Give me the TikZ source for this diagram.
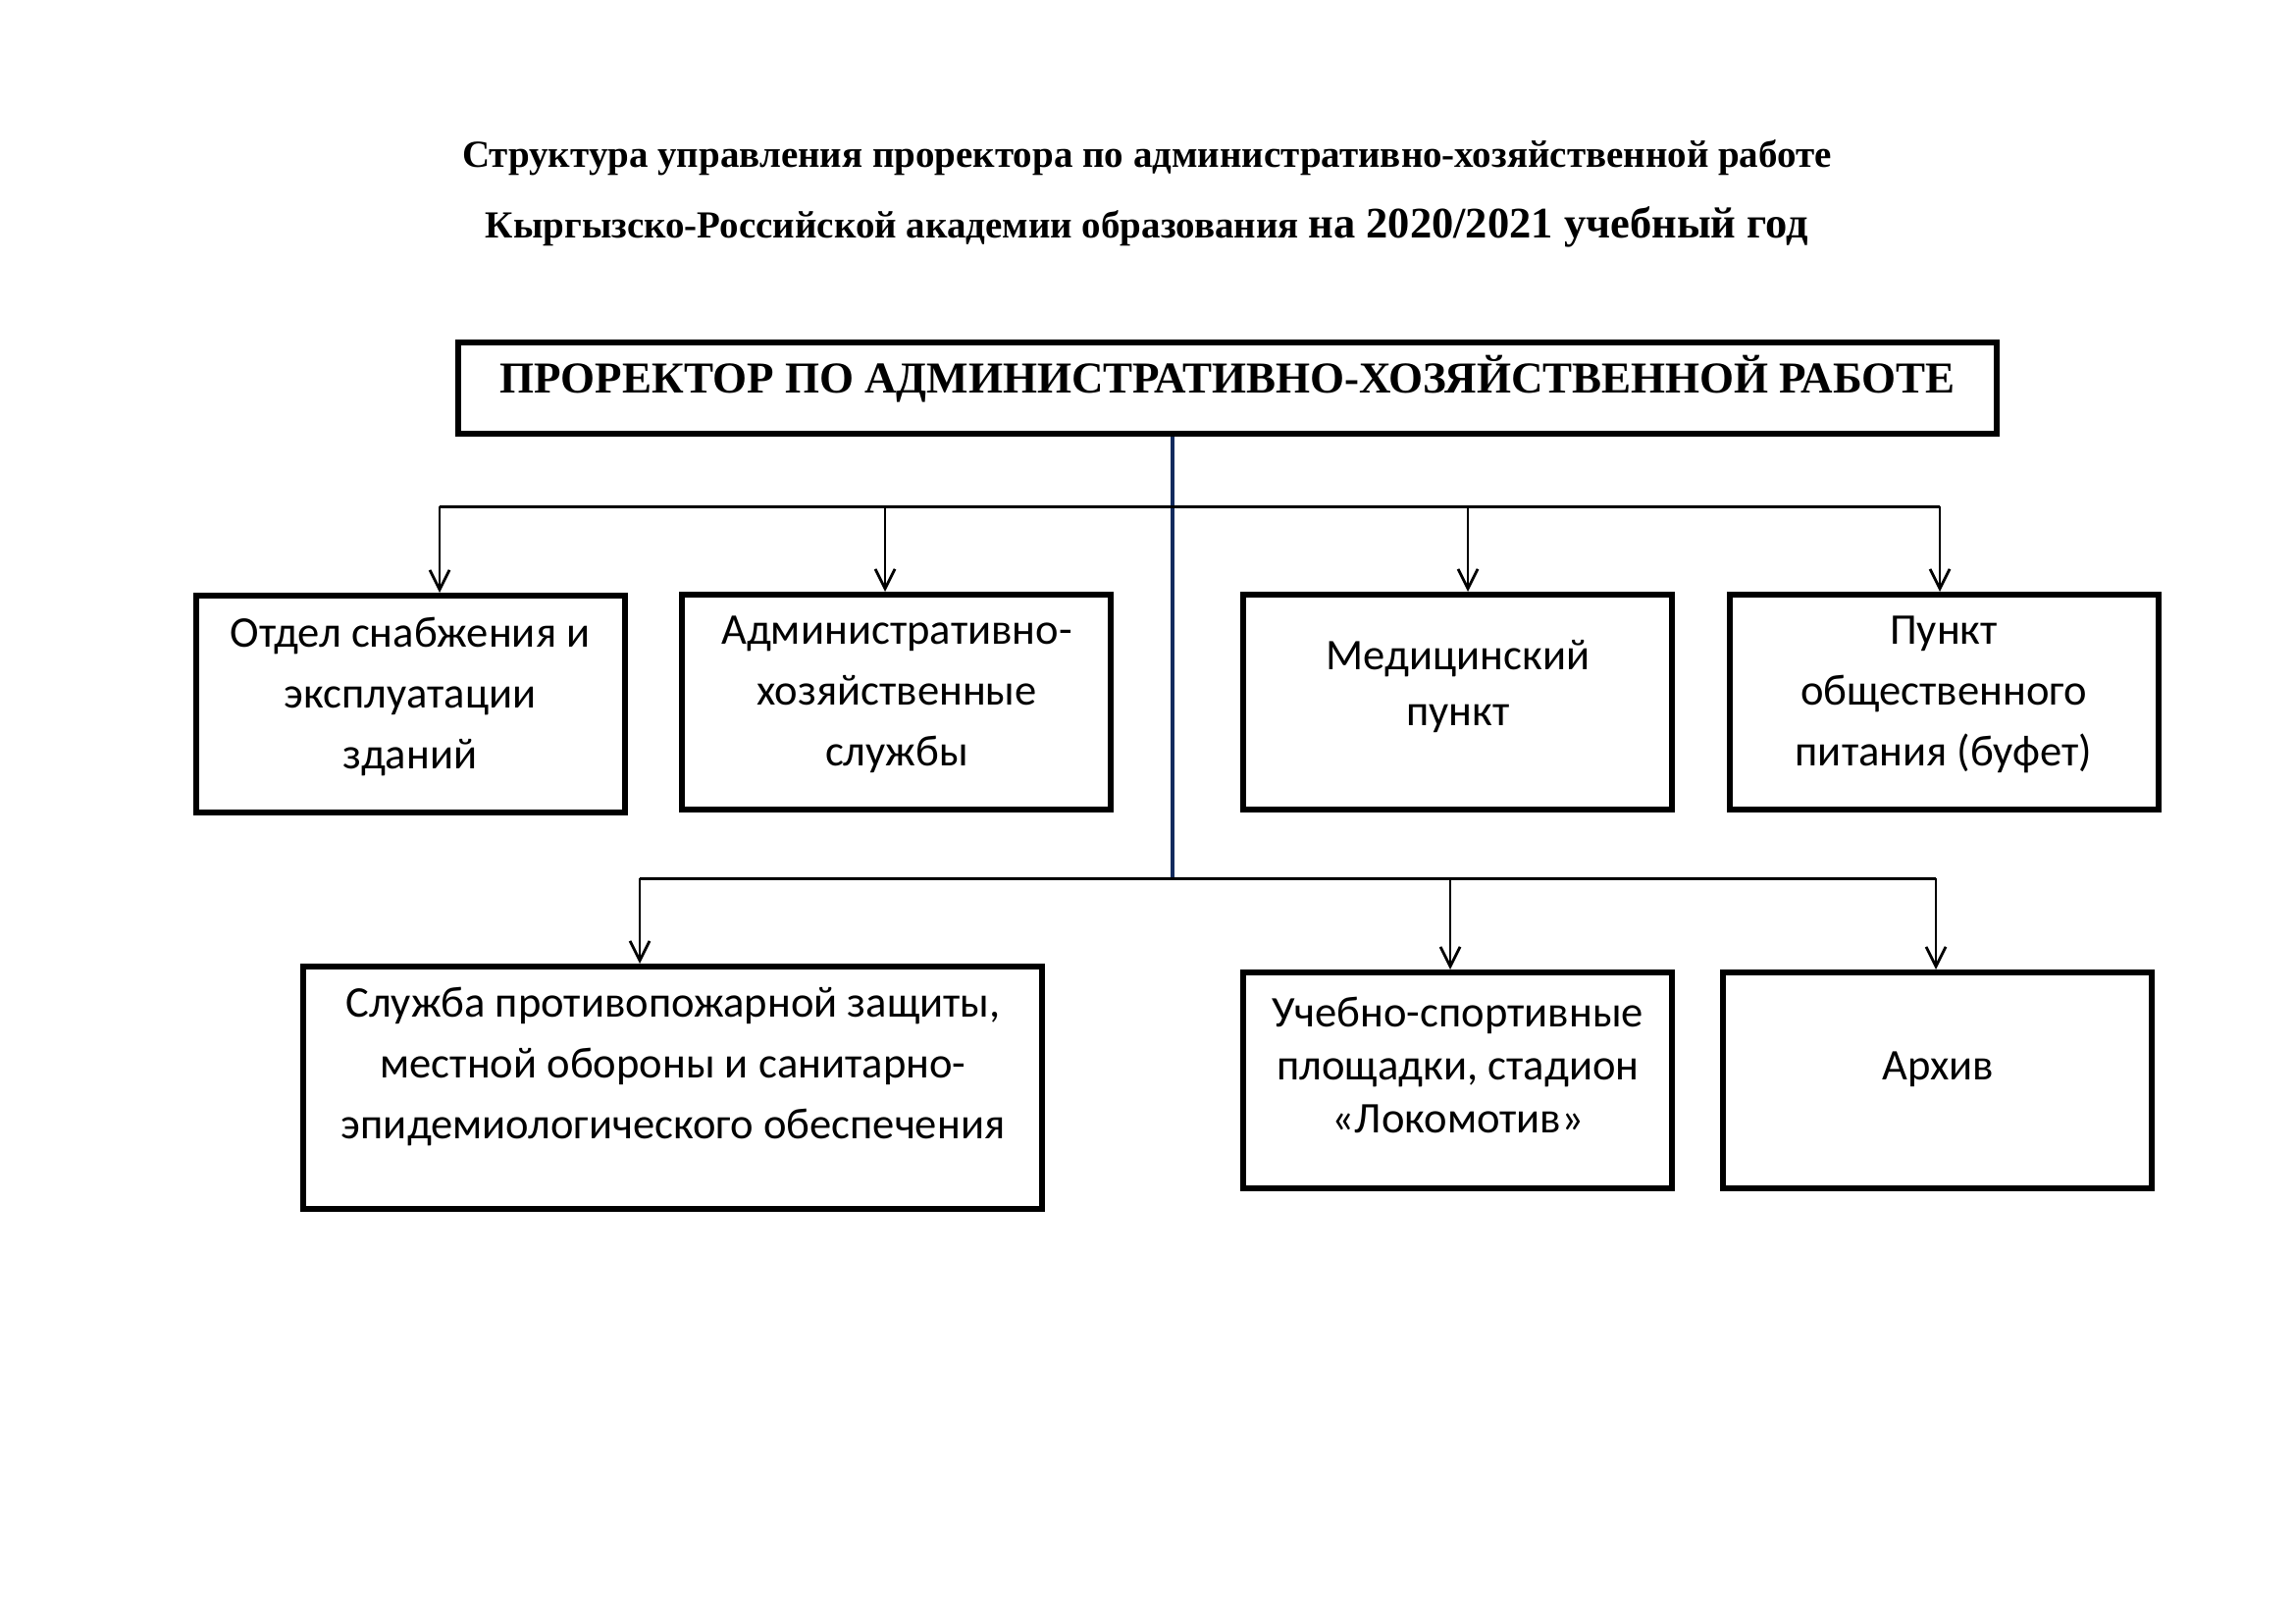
\documentclass[tikz,border=0pt]{standalone}
\usepackage{fontspec}
\setmainfont{Liberation Serif}
\newfontfamily\calfont{Carlito}
\usetikzlibrary{arrows.meta}
\definecolor{trunkblue}{HTML}{132B5E}
\begin{document}
\begin{tikzpicture}[x=1pt,y=-1pt,
  box/.style={draw=black,line width=6pt,inner sep=0pt},
  txt/.style={font=\calfont\fontsize{44.6}{62}\selectfont,align=center,inner sep=0pt},
  arr/.style={draw=black,line width=2.8pt,-{Straight Barb[length=20pt,width=20pt,line width=2.8pt]}},
  bus/.style={draw=black,line width=3pt}]
\useasboundingbox (0,0) rectangle (2339,1654);
% title
\node[font=\bfseries\fontsize{39}{42}\selectfont,inner sep=0pt] (title1) at (1169,161)
  {Структура управления проректора по административно-хозяйственной работе};
\node[font=\bfseries\fontsize{39}{42}\selectfont,inner sep=0pt] (title2) at (1169,231)
  {Кыргызско-Российской академии образования {\fontsize{44.5}{46}\selectfont на 2020/2021 учебный год}};
% top box
\node[box,line width=6.5pt,minimum width=1568pt,minimum height=93pt] (top) at (1251,395.5) {};
\node[font=\bfseries\fontsize{45}{48}\selectfont,inner sep=0pt] (toptxt) at (1251,386)
  {ПРОРЕКТОР ПО АДМИНИСТРАТИВНО-ХОЗЯЙСТВЕННОЙ РАБОТЕ};
% row 1 boxes
\node[box,minimum width=437pt,minimum height=221pt] (b1) at (418.5,717.5) {};
\node[box,minimum width=437pt,minimum height=219pt] (b2) at (913.5,715.5) {};
\node[box,minimum width=437pt,minimum height=219pt] (b3) at (1485,715.5) {};
\node[box,minimum width=437pt,minimum height=219pt] (b4) at (1981,715.5) {};
\node[txt] (t1) at (418,710) {Отдел снабжения и\\эксплуатации\\зданий};
\node[txt] (t2) at (914,708) {Административно-\\хозяйственные\\службы};
\node[txt,font=\calfont\fontsize{44.6}{57}\selectfont] (t3) at (1486,700) {Медицинский\\пункт};
\node[txt] (t4) at (1981,708) {Пункт\\общественного\\питания (буфет)};
% row 2 boxes
\node[box,minimum width=753pt,minimum height=247pt] (c1) at (685.5,1108.5) {};
\node[box,minimum width=437pt,minimum height=220pt] (c2) at (1485,1101) {};
\node[box,minimum width=437pt,minimum height=220pt] (c3) at (1974.5,1101) {};
\node[txt] (u1) at (686,1087) {Служба противопожарной защиты,\\местной обороны и санитарно-\\эпидемиологического обеспечения};
\node[txt,font=\calfont\fontsize{44.6}{54}\selectfont] (u2) at (1486,1085) {Учебно-спортивные\\площадки, стадион\\«Локомотив»};
\node[txt] (u3) at (1975,1090) {Архив};
% bus coordinates
\coordinate (trunkbot) at (1195,895);
\coordinate (busA1) at (448,516);
\coordinate (busA2) at (902,516);
\coordinate (busA3) at (1496,516);
\coordinate (busA4) at (1977,516);
\coordinate (busB1) at (652,895);
\coordinate (busB2) at (1478,895);
\coordinate (busB3) at (1973,895);
% trunk
\draw[draw=trunkblue,line width=3.2pt] (top.south -| trunkbot) -- (trunkbot);
% buses
\draw[bus] (busA1) -- (busA4);
\draw[bus] (busB1) -- (busB3);
% arrows
\draw[arr] (busA1) -- (busA1 |- b1.north);
\draw[arr] (busA2) -- (busA2 |- b2.north);
\draw[arr] (busA3) -- (busA3 |- b3.north);
\draw[arr] (busA4) -- (busA4 |- b4.north);
\draw[arr] (busB1) -- (busB1 |- c1.north);
\draw[arr] (busB2) -- (busB2 |- c2.north);
\draw[arr] (busB3) -- (busB3 |- c3.north);
\end{tikzpicture}
\end{document}
